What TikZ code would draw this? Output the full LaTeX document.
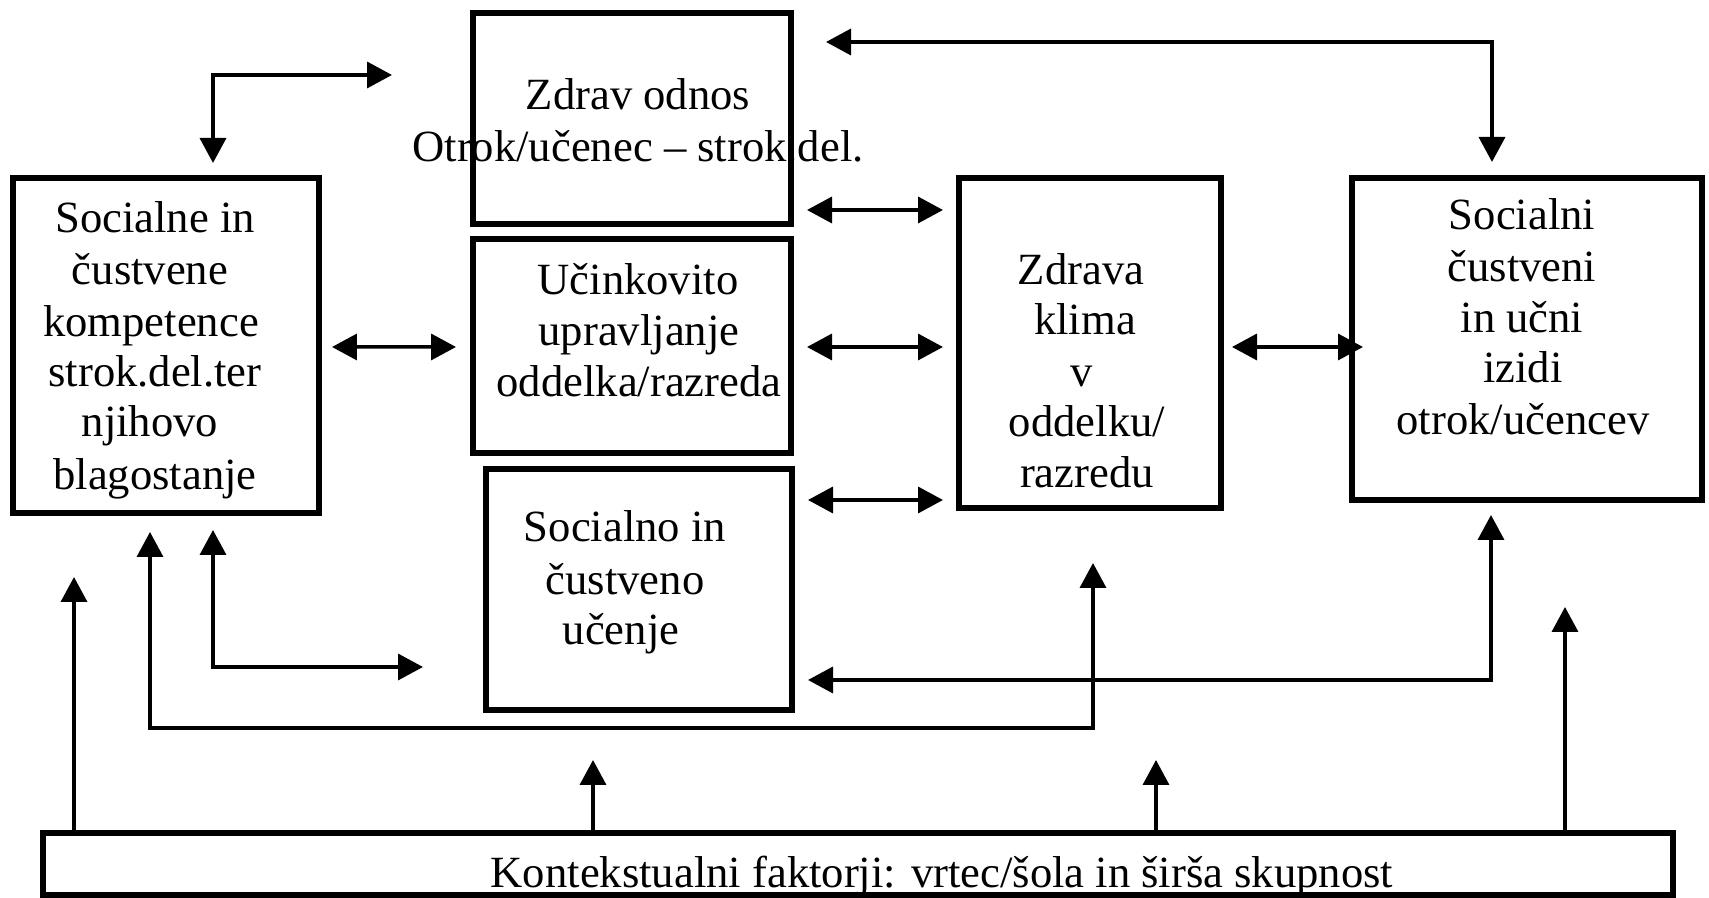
\documentclass[tikz,border=0pt]{standalone}
\usepackage{fontspec}
\setmainfont{Liberation Serif}
\usetikzlibrary{arrows.meta,calc}
\begin{document}
\begin{tikzpicture}[x=0.1mm,y=-0.1mm,
  box/.style={draw, line width=1.45pt, inner sep=0pt, outer sep=0pt},
  lbl/.style={anchor=base, inner sep=0pt, font=\fontsize{12.7pt}{14.6pt}\selectfont},
  con/.style={line width=1pt},
  tipx/.style={-{Triangle[length=2.5mm,width=2.6mm]}},
  tipboth/.style={{Triangle[length=2.5mm,width=2.6mm]}-{Triangle[length=2.5mm,width=2.6mm]}}]
\useasboundingbox (0,0) rectangle (1709,898);

% boxes
\node[box, minimum width=30.6mm, minimum height=33.5mm] (A) at (166,345.5) {};
\node[box, minimum width=31.8mm, minimum height=21.1mm] (B) at (632,118.5) {};
\node[box, minimum width=31.8mm, minimum height=21.4mm] (C) at (632,346) {};
\node[box, minimum width=30.6mm, minimum height=24.1mm] (D) at (639,589.5) {};
\node[box, minimum width=26.2mm, minimum height=33.0mm] (E) at (1090,343) {};
\node[box, minimum width=35.0mm, minimum height=32.2mm] (F) at (1527,339) {};
\node[box, minimum width=163.0mm, minimum height=6.2mm] (G) at (858,864) {};

% texts
\node[lbl] (a1) at (155,233) {Socialne in};
\node[lbl] (a2) at (150,285) {čustvene};
\node[lbl] (a3) at (151,337) {kompetence};
\node[lbl] (a4) at (155,387) {strok.del.ter};
\node[lbl] (a5) at (150,437) {njihovo};
\node[lbl] (a6) at (155,490) {blagostanje};

\node[lbl] (b1) at (638,110) {Zdrav odnos};
\node[lbl] (b2) at (638,162) {Otrok/učenec – strok.del.};

\node[lbl] (c1) at (638,295) {Učinkovito};
\node[lbl] (c2) at (639,346) {upravljanje};
\node[lbl] (c3) at (639,397) {oddelka/razreda};

\node[lbl] (d1) at (625,542) {Socialno in};
\node[lbl] (d2) at (625,595) {čustveno};
\node[lbl] (d3) at (621,645) {učenje};

\node[lbl] (e1) at (1081,285) {Zdrava};
\node[lbl] (e2) at (1085,335) {klima};
\node[lbl] (e3) at (1082,387) {v};
\node[lbl] (e4) at (1087,437) {oddelku/};
\node[lbl] (e5) at (1087,488) {razredu};

\node[lbl] (f1) at (1522,230) {Socialni};
\node[lbl] (f2) at (1522,282) {čustveni};
\node[lbl] (f3) at (1522,333) {in učni};
\node[lbl] (f4) at (1523,383) {izidi};
\node[lbl] (f5) at (1523,435) {otrok/učencev};

\node[lbl] (g1) at (942,888) {Kontekstualni faktorji: vrtec/šola in širša skupnost};

% free ends
\coordinate (tlEnd) at (392,75);
\coordinate (trEnd) at (826,42);
\coordinate (loopY) at (600,728);
\coordinate (Eg) at ([xshift=-3.2mm]E.west);

% top-left L arrow
\draw[con, tipboth] ([xshift=4.7mm,yshift=1.5mm]A.north) |- (tlEnd);
% top-right L arrow
\draw[con, tipboth] (trEnd) -| ([xshift=-3.5mm,yshift=1.6mm]F.north);

% double arrows middle <-> E
\draw[con, tipboth] ([xshift=1.6mm,yshift=-9.15mm]B.east) -- ([xshift=1.6mm,yshift=-9.15mm]B.east -| Eg);
\draw[con, tipboth] ([xshift=1.6mm,yshift=-0.1mm]C.east) -- ([xshift=1.6mm,yshift=-0.1mm]C.east -| Eg);
\draw[con, tipboth] ([xshift=1.6mm,yshift=8.95mm]D.east) -- ([xshift=1.6mm,yshift=8.95mm]D.east -| Eg);

% A <-> C
\draw[con, tipboth] ([xshift=1.3mm,yshift=-0.15mm]A.east) -- ([xshift=-1.7mm,yshift=-0.1mm]C.west);
% E <-> F
\draw[con, tipboth] ([xshift=1.1mm,yshift=-0.4mm]E.east) -- ([xshift=1.1mm,yshift=-0.4mm]E.east -| F.west);

% bottom loop A <-> E
\draw[con, tipboth] ([xshift=-1.6mm,yshift=-1.9mm]A.south) |- (loopY) -| ([xshift=0.3mm,yshift=-5.5mm]E.south);
% A <-> D
\draw[con, tipboth] ([xshift=4.7mm,yshift=-1.7mm]A.south) |- ([xshift=-6.3mm,yshift=-7.75mm]D.west);
% F -> D
\draw[con, tipboth] ([xshift=1.6mm,yshift=-9.05mm]D.east) -| ([xshift=-3.6mm,yshift=-1.5mm]F.south);

% arrows from G
\draw[con, tipx] ([xshift=-78.4mm]G.north) -- ++(0,25.6mm);
\draw[con, tipx] ([xshift=-26.5mm]G.north) -- ++(0,7.3mm);
\draw[con, tipx] ([xshift=29.8mm]G.north) -- ++(0,7.3mm);
\draw[con, tipx] ([xshift=70.7mm]G.north) -- ++(0,22.6mm);
\end{tikzpicture}
\end{document}
